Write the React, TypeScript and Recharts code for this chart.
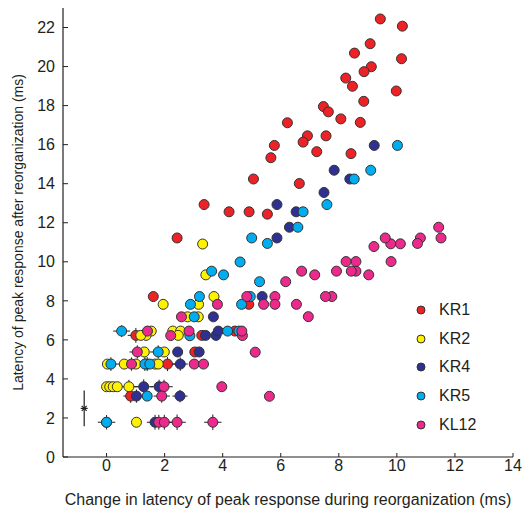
import React from "react";
import {
  ErrorBar,
  Legend,
  Scatter,
  ScatterChart,
  XAxis,
  YAxis,
} from "recharts";

// values (ms)
const kr1 = [
  { x: 9.43, y: 22.44 }, { x: 10.19, y: 22.07 }, { x: 9.08, y: 21.17 },
  { x: 8.54, y: 20.69 }, { x: 10.16, y: 20.4 }, { x: 9.12, y: 19.99 },
  { x: 8.87, y: 19.74 }, { x: 8.24, y: 19.41 }, { x: 8.47, y: 18.99 },
  { x: 9.98, y: 18.75 }, { x: 8.86, y: 18.22 }, { x: 7.47, y: 17.95 },
  { x: 7.64, y: 17.68 }, { x: 8.07, y: 17.32 }, { x: 6.23, y: 17.12 },
  { x: 8.74, y: 17.14 }, { x: 6.92, y: 16.45 }, { x: 7.56, y: 16.45 },
  { x: 6.77, y: 16.13 }, { x: 5.78, y: 15.96 }, { x: 7.24, y: 15.64 },
  { x: 8.42, y: 15.54 }, { x: 5.66, y: 15.33 }, { x: 5.06, y: 14.24 },
  { x: 6.64, y: 14.01 }, { x: 3.36, y: 12.93 }, { x: 4.22, y: 12.56 },
  { x: 4.91, y: 12.56 }, { x: 5.54, y: 12.44 }, { x: 2.43, y: 11.22 },
  { x: 1.61, y: 8.22 }, { x: 4.9, y: 7.82 }, { x: 4.42, y: 6.45 },
  { x: 3.28, y: 6.23 }, { x: 3.04, y: 5.38 }, { x: 2.1, y: 4.76 },
  { x: 1.01, y: 6.23 }, { x: 0.83, y: 3.12 },
];

const kr2 = [
  { x: 3.31, y: 10.91 }, { x: 3.42, y: 9.33 }, { x: 3.7, y: 8.22 },
  { x: 1.95, y: 7.82 }, { x: 3.17, y: 7.82 }, { x: 2.79, y: 7.18 },
  { x: 3.16, y: 7.18 }, { x: 2.28, y: 6.45 }, { x: 2.55, y: 6.45 },
  { x: 2.47, y: 6.23 }, { x: 1.54, y: 6.45 }, { x: 1.36, y: 6.23 },
  { x: 1.18, y: 6.23 }, { x: 1.3, y: 5.38 }, { x: 1.99, y: 5.38 },
  { x: 0.03, y: 4.76 }, { x: 0.61, y: 4.76 }, { x: 1.01, y: 4.76 },
  { x: 1.67, y: 4.76 }, { x: 1.78, y: 4.76 }, { x: 0.0, y: 3.6 },
  { x: 0.11, y: 3.6 }, { x: 0.23, y: 3.6 }, { x: 0.37, y: 3.6 },
  { x: 0.77, y: 3.6 }, { x: 1.03, y: 1.78 },
];

const kr4 = [
  { x: 9.22, y: 15.96 }, { x: 7.84, y: 14.69 }, { x: 8.38, y: 14.24 },
  { x: 7.49, y: 13.55 }, { x: 5.87, y: 12.93 }, { x: 6.53, y: 12.56 },
  { x: 6.3, y: 11.77 }, { x: 5.87, y: 11.22 }, { x: 5.36, y: 8.22 },
  { x: 3.68, y: 7.18 }, { x: 3.41, y: 6.23 }, { x: 3.77, y: 6.23 },
  { x: 3.85, y: 6.45 }, { x: 2.45, y: 5.38 }, { x: 3.19, y: 5.38 },
  { x: 2.54, y: 4.76 }, { x: 1.4, y: 4.76 }, { x: 1.28, y: 3.6 },
  { x: 1.81, y: 3.6 }, { x: 1.03, y: 3.12 }, { x: 2.53, y: 3.12 },
  { x: 0.0, y: 1.78 }, { x: 1.67, y: 1.78 },
];

const kr5 = [
  { x: 10.02, y: 15.96 }, { x: 9.1, y: 14.69 }, { x: 8.53, y: 14.24 },
  { x: 7.59, y: 12.93 }, { x: 6.77, y: 12.56 }, { x: 6.59, y: 11.77 },
  { x: 5.0, y: 11.22 }, { x: 5.54, y: 10.94 }, { x: 4.6, y: 9.99 },
  { x: 3.62, y: 9.52 }, { x: 4.03, y: 9.33 }, { x: 5.27, y: 8.98 },
  { x: 3.2, y: 8.22 }, { x: 4.95, y: 8.22 }, { x: 2.89, y: 7.82 },
  { x: 4.65, y: 7.82 }, { x: 3.02, y: 7.18 }, { x: 2.87, y: 6.21 },
  { x: 4.17, y: 6.45 }, { x: 4.56, y: 6.45 }, { x: 0.52, y: 6.45 },
  { x: 1.78, y: 5.38 }, { x: 0.15, y: 4.76 }, { x: 1.32, y: 4.76 },
  { x: 1.49, y: 4.76 }, { x: 1.4, y: 3.12 }, { x: 0.0, y: 1.78 },
];

const kl12 = [
  { x: 11.44, y: 11.77 }, { x: 11.52, y: 11.22 }, { x: 10.81, y: 11.22 },
  { x: 10.71, y: 10.94 }, { x: 10.12, y: 10.92 }, { x: 9.79, y: 10.92 },
  { x: 9.6, y: 11.22 }, { x: 9.21, y: 10.78 }, { x: 9.8, y: 10.01 },
  { x: 8.59, y: 10.01 }, { x: 8.25, y: 10.01 }, { x: 9.03, y: 9.33 },
  { x: 8.59, y: 9.52 }, { x: 8.43, y: 9.52 }, { x: 7.92, y: 9.52 },
  { x: 7.17, y: 9.33 }, { x: 6.72, y: 9.52 }, { x: 6.17, y: 8.98 },
  { x: 7.76, y: 8.22 }, { x: 7.54, y: 8.22 }, { x: 5.8, y: 8.22 },
  { x: 4.83, y: 8.22 }, { x: 6.54, y: 7.82 }, { x: 5.8, y: 7.82 },
  { x: 5.41, y: 7.82 }, { x: 3.82, y: 7.82 }, { x: 6.95, y: 7.19 },
  { x: 2.58, y: 7.18 }, { x: 4.68, y: 6.22 }, { x: 4.66, y: 6.45 },
  { x: 2.84, y: 6.45 }, { x: 2.21, y: 6.22 }, { x: 1.41, y: 6.45 },
  { x: 5.12, y: 5.37 }, { x: 1.06, y: 5.38 }, { x: 0.86, y: 4.76 },
  { x: 3.02, y: 4.76 }, { x: 3.34, y: 4.76 }, { x: 3.97, y: 3.6 },
  { x: 5.61, y: 3.11 }, { x: 1.98, y: 3.6 }, { x: 1.9, y: 3.12 },
  { x: 1.8, y: 1.78 }, { x: 1.99, y: 1.78 }, { x: 2.43, y: 1.78 },
  { x: 3.66, y: 1.78 },
];

// points that carry error crosses (x err, y err)
const errPoints = [
  { x: 2.1, y: 4.76, ex: 0.28, ey: 0.36 },
  { x: 1.01, y: 6.23, ex: 0.28, ey: 0.38 },
  { x: 0.83, y: 3.12, ex: 0.25, ey: 0.35 },
  { x: 0.77, y: 3.6, ex: 0.3, ey: 0.35 },
  { x: 2.54, y: 4.76, ex: 0.26, ey: 0.34 },
  { x: 1.4, y: 4.76, ex: 0.3, ey: 0.36 },
  { x: 1.28, y: 3.6, ex: 0.32, ey: 0.38 },
  { x: 1.81, y: 3.6, ex: 0.3, ey: 0.36 },
  { x: 1.03, y: 3.12, ex: 0.25, ey: 0.34 },
  { x: 2.53, y: 3.12, ex: 0.26, ey: 0.32 },
  { x: 0.0, y: 1.78, ex: 0.3, ey: 0.37 },
  { x: 1.67, y: 1.78, ex: 0.28, ey: 0.38 },
  { x: 0.52, y: 6.45, ex: 0.29, ey: 0.3 },
  { x: 1.78, y: 5.38, ex: 0.28, ey: 0.34 },
  { x: 0.15, y: 4.76, ex: 0.3, ey: 0.35 },
  { x: 1.32, y: 4.76, ex: 0.28, ey: 0.35 },
  { x: 1.06, y: 5.38, ex: 0.27, ey: 0.34 },
  { x: 0.86, y: 4.76, ex: 0.27, ey: 0.34 },
  { x: 1.98, y: 3.6, ex: 0.3, ey: 0.36 },
  { x: 1.9, y: 3.12, ex: 0.28, ey: 0.34 },
  { x: 1.8, y: 1.78, ex: 0.28, ey: 0.38 },
  { x: 1.99, y: 1.78, ex: 0.28, ey: 0.38 },
  { x: 2.43, y: 1.78, ex: 0.3, ey: 0.4 },
  { x: 3.66, y: 1.78, ex: 0.3, ey: 0.4 },
];

// typical error marker
const asterisk = [{ x: -0.77, y: 2.49, ey: 0.92 }];

const xTicks = [0, 2, 4, 6, 8, 10, 12, 14];
const yTicks = [0, 2, 4, 6, 8, 10, 12, 14, 16, 18, 20, 22];

const ink = "#231f20";
const font = "'Liberation Sans', Arial, sans-serif";

const series = [
  { name: "KR1", data: kr1, color: "#ed2227" },
  { name: "KR2", data: kr2, color: "#fff200" },
  { name: "KR4", data: kr4, color: "#2e3192" },
  { name: "KR5", data: kr5, color: "#00aeef" },
  { name: "KL12", data: kl12, color: "#ec2a8c" },
];

const Dot = (props: any) => {
  const { cx, cy, fill } = props;
  if (cx == null || cy == null) return <g />;
  return <circle cx={cx} cy={cy} r={5} fill={fill} stroke="#333" strokeWidth={1} />;
};

const Star = (props: any) => {
  const { cx, cy } = props;
  if (cx == null || cy == null) return <g />;
  const r = 3.5;
  const d = r * 0.707;
  return (
    <g stroke={ink} strokeWidth={1.2}>
      <line x1={cx - r} y1={cy} x2={cx + r} y2={cy} />
      <line x1={cx - d} y1={cy - d} x2={cx + d} y2={cy + d} />
      <line x1={cx - d} y1={cy + d} x2={cx + d} y2={cy - d} />
    </g>
  );
};

const YLabel = (props: any) => {
  const { viewBox } = props;
  const x = 18;
  const y = viewBox.y + viewBox.height / 2;
  return (
    <text
      x={x}
      y={y}
      transform={`rotate(-90, ${x}, ${y})`}
      textAnchor="middle"
      dominantBaseline="central"
      fontSize={14}
      fontFamily={font}
      fill={ink}
    >
      Latency of peak response after reorganization (ms)
    </text>
  );
};

const renderLegend = () => (
  <div style={{ fontFamily: font, fontSize: 16, color: ink, width: 90 }}>
    {series.map((s) => (
      <div key={s.name} style={{ display: "flex", alignItems: "center", height: 28.6 }}>
        <svg width={10} height={10}>
          <circle cx={5} cy={5} r={4} fill={s.color} stroke="#333" strokeWidth={1} />
        </svg>
        <span style={{ marginLeft: 13 }}>{s.name}</span>
      </div>
    ))}
  </div>
);

export default function App() {
  return (
    <div style={{ position: "absolute", left: 0, top: 0, background: "#fff" }}>
      <ScatterChart
        width={524}
        height={510}
        margin={{ top: 8, right: 11, bottom: 0, left: 0 }}
      >
        <XAxis
          type="number"
          dataKey="x"
          domain={[-1.5, 14]}
          ticks={xTicks}
          allowDataOverflow
          height={53}
          tickSize={-4}
          tickMargin={7}
          axisLine={{ stroke: ink, strokeWidth: 1.2 }}
          tickLine={{ stroke: ink, strokeWidth: 1 }}
          tick={{ fill: ink, fontSize: 16, fontFamily: font }}
          label={{
            value: "Change in latency of peak response during reorganization (ms)",
            position: "insideBottom",
            offset: 5,
            fill: ink,
            fontSize: 16,
            fontFamily: font,
          }}
        />
        <YAxis
          type="number"
          dataKey="y"
          domain={[0, 23]}
          ticks={yTicks}
          allowDataOverflow
          width={63}
          tickSize={-5}
          tickMargin={13}
          axisLine={{ stroke: ink, strokeWidth: 1.2 }}
          tickLine={{ stroke: ink, strokeWidth: 1 }}
          tick={{ fill: ink, fontSize: 16, fontFamily: font }}
          label={<YLabel />}
        />
        <Legend
          layout="vertical"
          verticalAlign="top"
          align="right"
          wrapperStyle={{ top: 296, left: 416, width: 0, height: 0, overflow: "visible" }}
          content={renderLegend}
        />
        {series.map((s) => (
          <Scatter
            key={s.name}
            name={s.name}
            data={s.data}
            fill={s.color}
            shape={<Dot />}
            isAnimationActive={false}
          />
        ))}
        <Scatter
          name="errors"
          data={errPoints}
          fill="none"
          legendType="none"
          shape={() => <g />}
          isAnimationActive={false}
        >
          <ErrorBar dataKey="ex" direction="x" width={0} stroke={ink} strokeWidth={1} />
          <ErrorBar dataKey="ey" direction="y" width={0} stroke={ink} strokeWidth={1} />
        </Scatter>
        <Scatter
          name="typical"
          data={asterisk}
          fill={ink}
          legendType="none"
          shape={<Star />}
          isAnimationActive={false}
        >
          <ErrorBar dataKey="ey" direction="y" width={0} stroke={ink} strokeWidth={1.2} />
        </Scatter>
      </ScatterChart>
    </div>
  );
}
